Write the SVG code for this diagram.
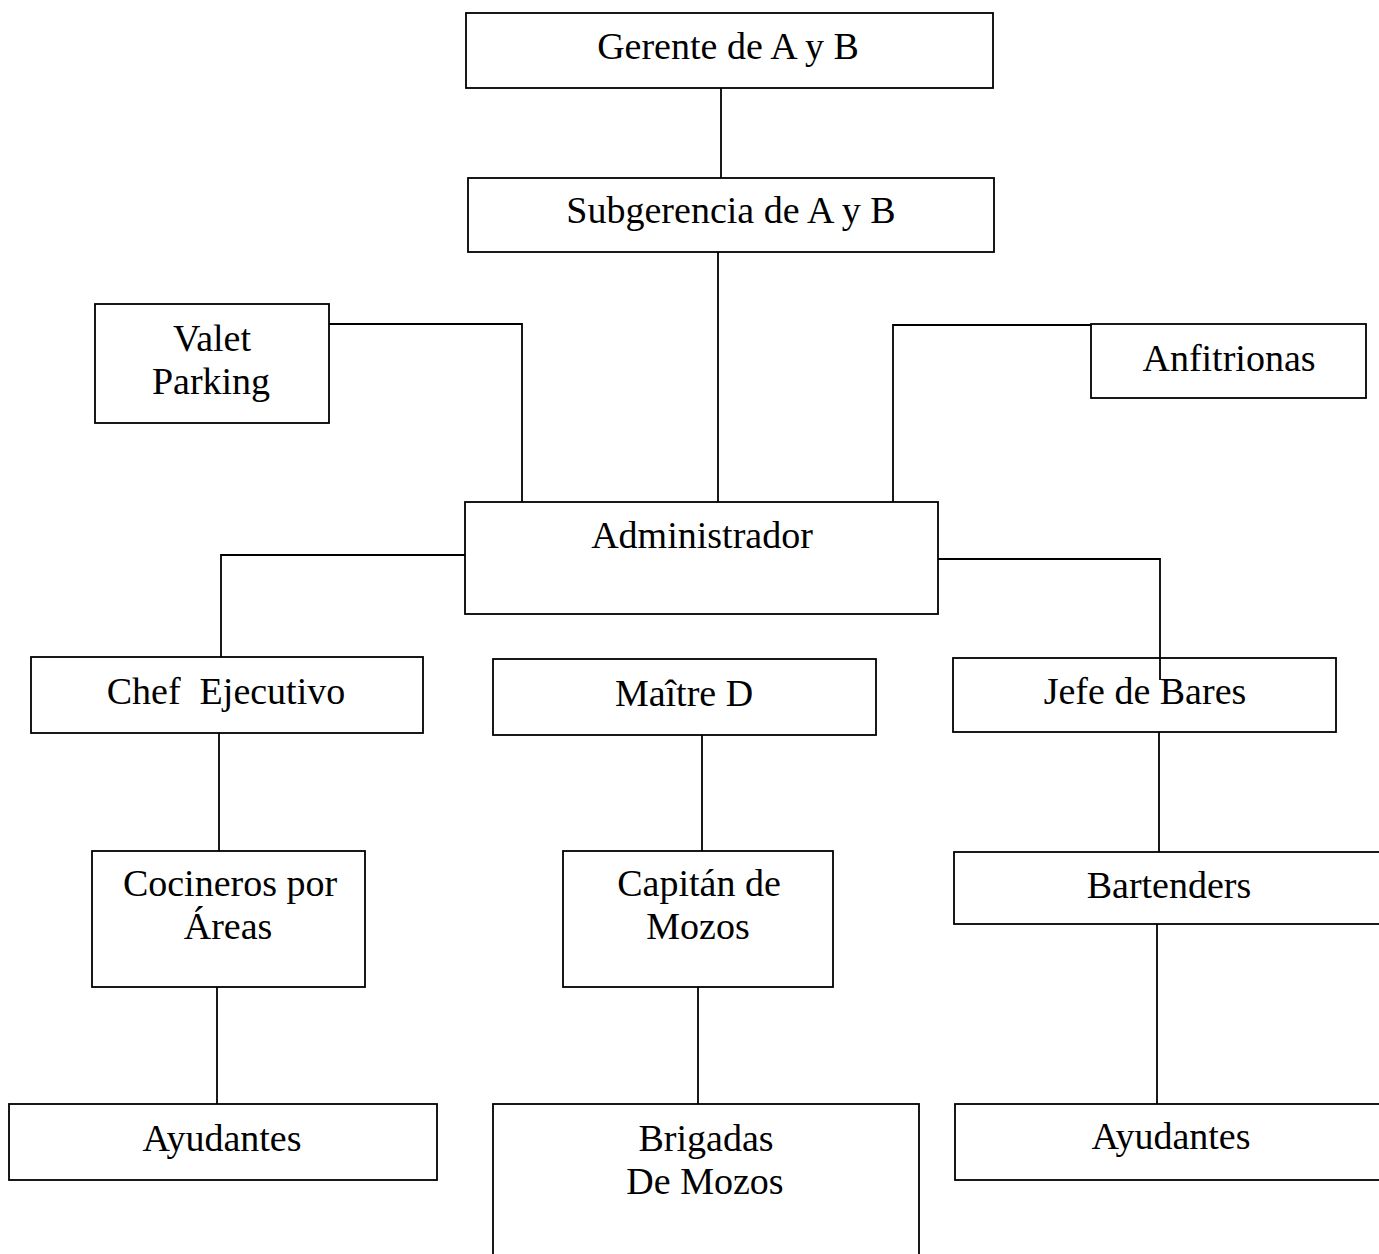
<svg xmlns="http://www.w3.org/2000/svg" width="1379" height="1254" viewBox="0 0 1379 1254">
<style>
rect{fill:#fff;stroke:#000;stroke-width:1.8}
text{font-family:"Liberation Serif","Times New Roman",serif;font-size:38px;fill:#000;text-anchor:middle}
#connectors path{fill:none;stroke:#000;stroke-width:1.8}
</style>
<rect x="0" y="0" width="1379" height="1254" style="stroke:none"/>
<g id="connectors">
<path d="M721 88V178"/>
<path d="M718 252V502"/>
<path d="M329 324H522V502"/>
<path d="M1091 325H893V502"/>
<path d="M465 555H221V657"/>
<path d="M938 559H1160V680"/>
<path d="M219 733V851"/>
<path d="M217 987V1104"/>
<path d="M702 735V851"/>
<path d="M698 987V1104"/>
<path d="M1159 732V852"/>
<path d="M1157 924V1104"/>
</g>
<g id="gerente"><rect x="466" y="13" width="527" height="75"/><text x="728" y="59">Gerente de A y B</text></g>
<g id="subgerencia"><rect x="468" y="178" width="526" height="74"/><text x="731" y="223">Subgerencia de A y B</text></g>
<g id="valet"><rect x="95" y="304" width="234" height="119"/><text x="212" y="351">Valet</text><text x="211" y="394">Parking</text></g>
<g id="anfitrionas"><rect x="1091" y="324" width="275" height="74"/><text x="1229" y="371">Anfitrionas</text></g>
<g id="administrador"><rect x="465" y="502" width="473" height="112"/><text x="702" y="548">Administrador</text></g>
<g id="chef"><rect x="31" y="657" width="392" height="76"/><text x="226" y="704" xml:space="preserve">Chef  Ejecutivo</text></g>
<g id="maitre"><rect x="493" y="659" width="383" height="76"/><text x="684" y="706">Maître D</text></g>
<g id="jefe"><rect x="953" y="658" width="383" height="74" style="fill:none"/><text x="1145" y="704">Jefe de Bares</text></g>
<g id="cocineros"><rect x="92" y="851" width="273" height="136"/><text x="230" y="896">Cocineros por</text><text x="228" y="939">Áreas</text></g>
<g id="capitan"><rect x="563" y="851" width="270" height="136"/><text x="699" y="896">Capitán de</text><text x="698" y="939">Mozos</text></g>
<g id="bartenders"><rect x="954" y="852" width="440" height="72"/><text x="1169" y="898">Bartenders</text></g>
<g id="ayudantes1"><rect x="9" y="1104" width="428" height="76"/><text x="222" y="1151">Ayudantes</text></g>
<g id="brigadas"><rect x="493" y="1104" width="426" height="170"/><text x="706" y="1151">Brigadas</text><text x="705" y="1194">De Mozos</text></g>
<g id="ayudantes2"><rect x="955" y="1104" width="440" height="76"/><text x="1171" y="1149">Ayudantes</text></g>
</svg>
